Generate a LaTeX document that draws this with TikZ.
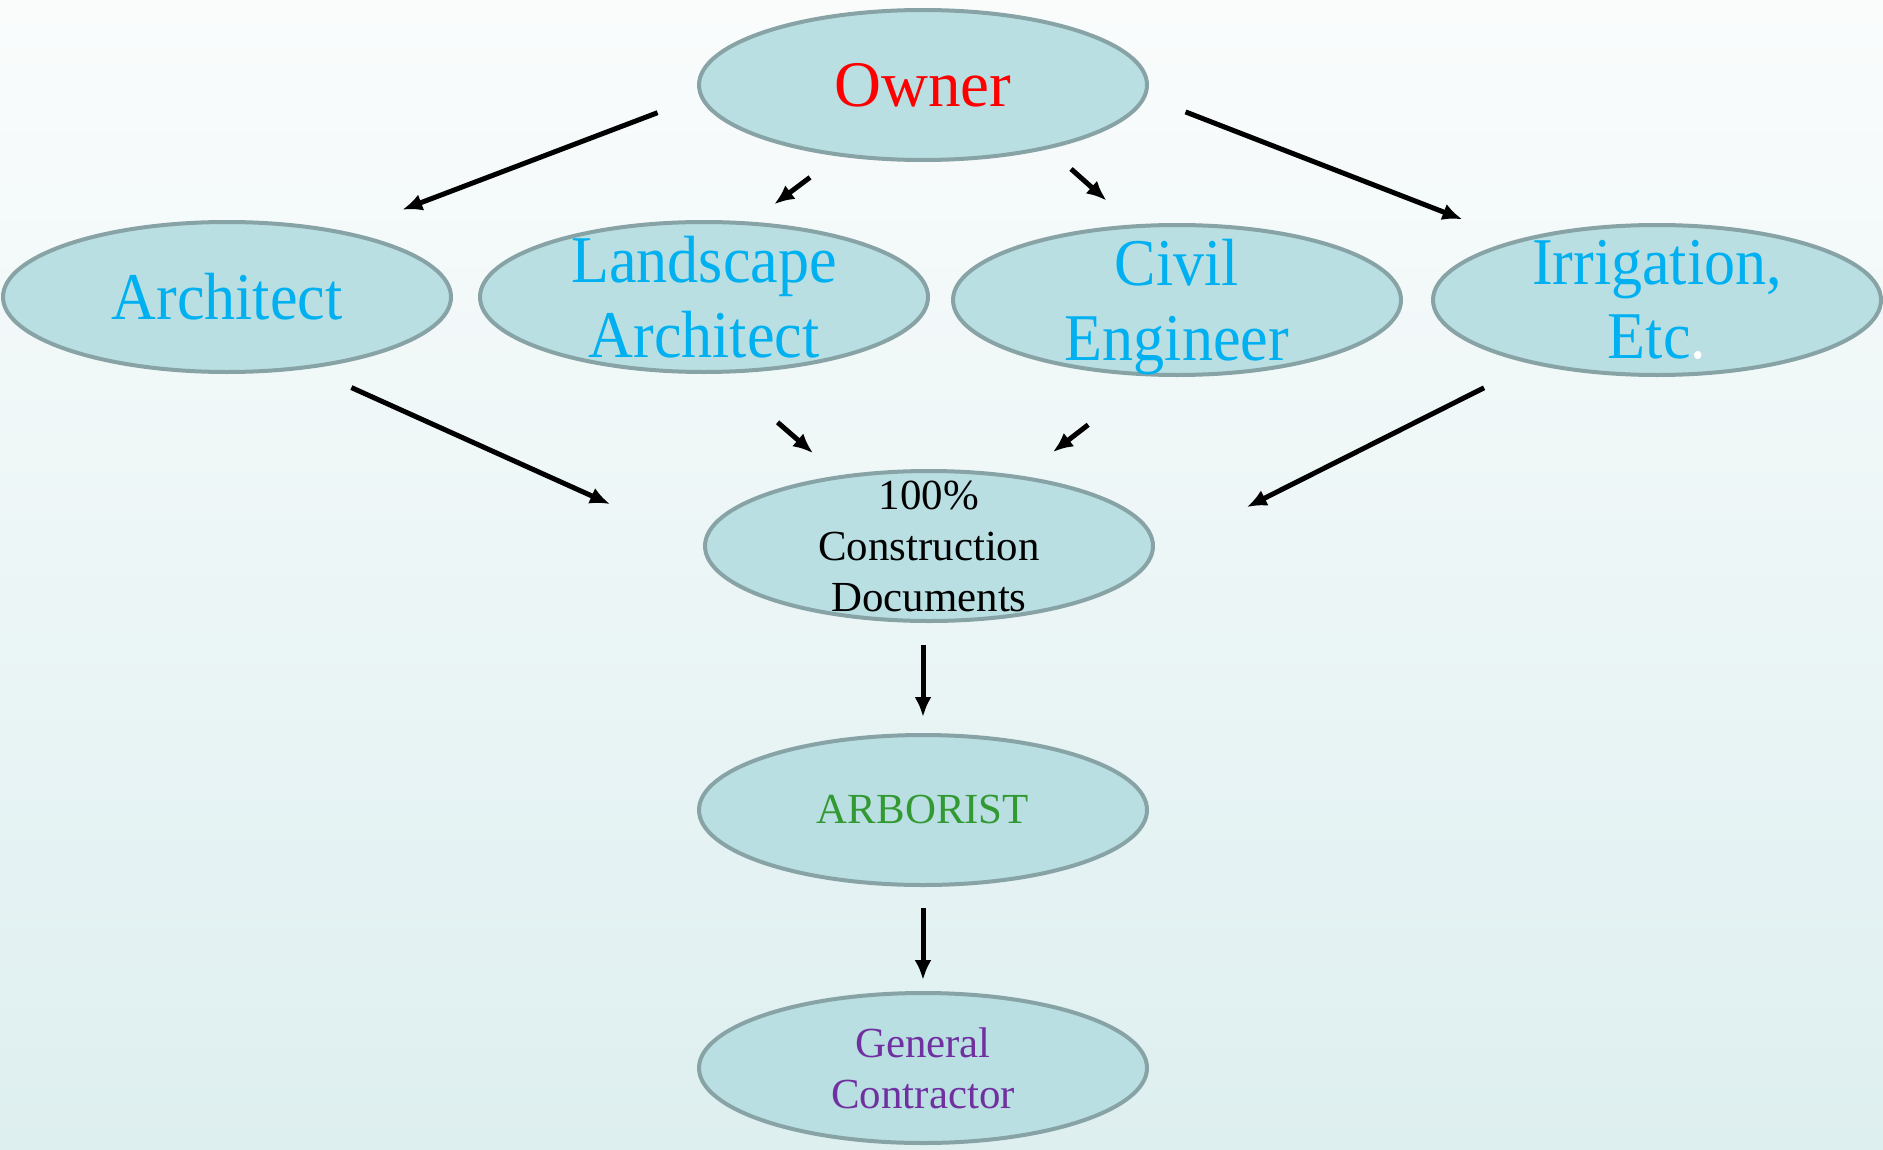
\documentclass[tikz,border=0pt]{standalone}
\usepackage{fontspec}
\setmainfont{Liberation Serif}
\newfontfamily\narrowserif[FakeStretch=0.93]{Liberation Serif}
\definecolor{ovalFill}{RGB}{185, 223, 226}
\definecolor{ovalLine}{RGB}{135, 163, 165}
\definecolor{roleBlue}{RGB}{0, 176, 240}
\definecolor{ownerRed}{RGB}{255, 0, 0}
\definecolor{arbGreen}{RGB}{51, 153, 51}
\definecolor{gcPurple}{RGB}{112, 48, 160}
\definecolor{bgTop}{RGB}{250, 252, 252}
\definecolor{bgBottom}{RGB}{222, 239, 240}
\usetikzlibrary{positioning, shapes.geometric, arrows.meta}

\begin{document}
\begin{tikzpicture}[
    oval/.style={ellipse, draw=ovalLine, fill=ovalFill, line width=0.04cm,
                 minimum width=4.48cm, minimum height=1.50cm, inner sep=-0.5cm,
                 align=center},
    role/.style={oval, text=roleBlue,
                 font=\narrowserif\fontsize{19}{21.2}\selectfont},
    small/.style={oval, font=\fontsize{12.2}{14.5}\selectfont},
    arrow/.style={-{Latex[length=0.2cm, width=0.17cm]}, line width=0.05cm},
  ]
    % Background
    \useasboundingbox (0,0) rectangle (18.83,-11.49);
    \shade[top color=bgTop, bottom color=bgBottom] (0,0) rectangle (18.83,-11.49);

    % Top: owner
    \node[oval, text=ownerRed, font=\fontsize{18.5}{21}\selectfont] (owner) at (9.23,-0.85) {Owner};

    % Row of consultants
    \node[role] (arch) at (2.27,-2.97) {Architect};
    \node[role, right=0.25cm of arch] (land) {Landscape\\Architect};
    \node[role, right=0.21cm of land, yshift=-0.03cm] (civil) {Civil\\\smash{Engineer}};
    \node[role, right=0.28cm of civil] (irr) {Irrigation,\\Etc\textcolor{white}{.}};

    % Column below
    \node[small, text=black] (cd) at (9.29,-5.46) {100\%\\Construction\\Documents};
    \node[small, text=arbGreen] (arb) at (9.23,-8.10) {ARBORIST};
    \node[small, text=gcPurple, below=1.04cm of arb] (gc) {General\\Contractor};

    % Owner to consultants
    \draw[arrow, shorten <=0.45cm, shorten >=0.61cm] (owner.183.7) -- (arch.29.2);
    \draw[arrow, shorten <=0.35cm, shorten >=0.29cm] (owner.220.9) -- (land.58.1);
    \draw[arrow, shorten <=0.30cm, shorten >=0.36cm] (owner.333.7) -- (civil.120.7);
    \draw[arrow, shorten <=0.42cm, shorten >=0.57cm] (owner.357.9) -- (irr.157.5);

    % Consultants to documents
    \draw[arrow, shorten <=0.46cm, shorten >=1.02cm] (arch.319.6) -- (cd.180.9);
    \draw[arrow, shorten <=0.74cm, shorten >=0.34cm] (land.283.3) -- (cd.142.7);
    \draw[arrow, shorten <=0.79cm, shorten >=0.39cm] (civil.251.7) -- (cd.37.5);
    \draw[arrow, shorten <=0.53cm, shorten >=1.04cm] (irr.207.5) -- (cd.358.1);

    % Down the column
    \draw[arrow, shorten <=0.22cm, shorten >=0.16cm] (cd.south -| arb.north) -- (arb.north);
    \draw[arrow, shorten <=0.21cm, shorten >=0.11cm] (arb.south) -- (gc.north);
  \end{tikzpicture}
\end{document}
